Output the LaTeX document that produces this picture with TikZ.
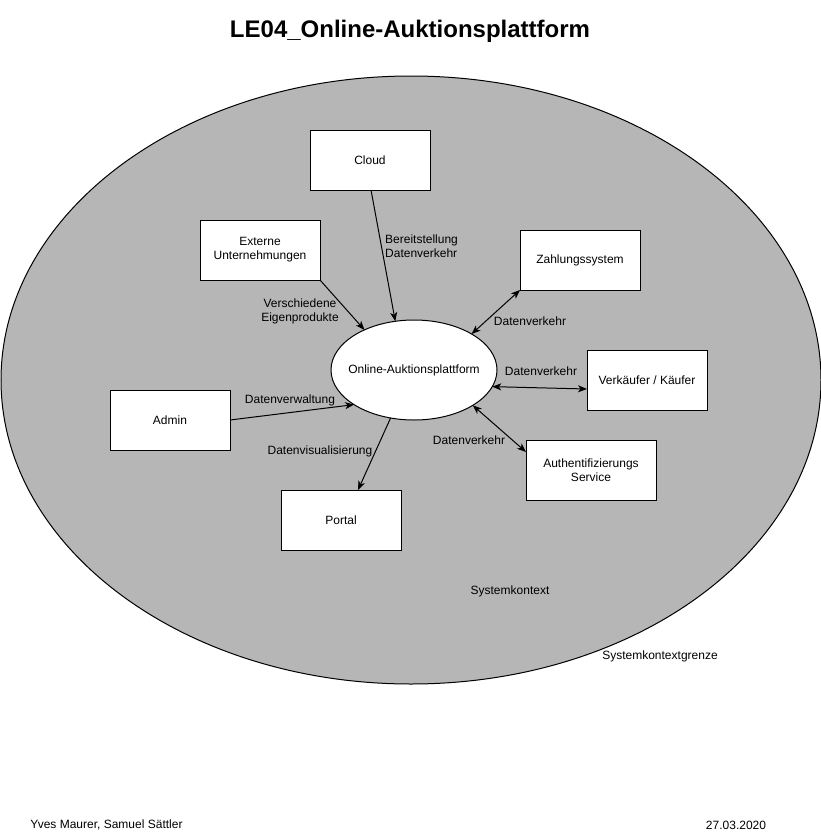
\documentclass[tikz,border=0pt]{standalone}
\usepackage{fontspec}
\setmainfont{Liberation Sans}
\usetikzlibrary{shapes.geometric,arrows.meta,calc}
\definecolor{ctxgray}{RGB}{182,182,182}
\definecolor{txtcol}{RGB}{0,0,0}
\begin{document}
\begin{tikzpicture}[x=1pt,y=-1pt,
  every node/.style={font=\fontsize{12}{14}\selectfont, text=txtcol},
  box/.style={draw, fill=white, line width=1pt, rectangle, minimum width=120pt, minimum height=60pt, inner sep=0pt, outer sep=0pt, align=center},
  lbl/.style={inner sep=0pt, align=center},
  arr/.style={line width=1pt, -{Stealth[length=9pt,width=7pt,inset=2.5pt]}},
  darr/.style={line width=1pt, {Stealth[length=9pt,width=7pt,inset=2.5pt]}-{Stealth[length=9pt,width=7pt,inset=2.5pt]}}
]
\useasboundingbox (0,0) rectangle (821,836);
% system context boundary
\node[draw, line width=1pt, fill=ctxgray, ellipse, minimum width=820pt, minimum height=608pt, inner sep=0pt, outer sep=0pt] (ctx) at (411,380) {};
% title
\node[inner sep=0pt, font=\fontsize{24}{28}\selectfont\bfseries] (title) at (410,31) {LE04\_Online-Auktionsplattform};
% central element
\node[draw, line width=1pt, fill=white, ellipse, minimum width=166pt, minimum height=100pt, inner sep=0pt, outer sep=0pt,
  label={[inner sep=0pt, font=\fontsize{12}{14}\selectfont]center:Online-Auktionsplattform}] (plat) at (414,370) {};
% boxes
\node[box] (cloud) at (370,160) {Cloud};
\node[box] (ext) at (260,250) {Externe\\Unternehmungen};
\node[box] (zahl) at (580,260) {Zahlungssystem};
\node[box] (verk) at (647,380) {Verkäufer / Käufer};
\node[box] (admin) at (170,420) {Admin};
\node[box, minimum width=130pt] (auth) at (591,470) {Authentifizierungs\\Service};
\node[box] (portal) at (341,520) {Portal};
% connectors
\draw[arr] ($(cloud.south)+(1,0)$) -- (plat.111);
\draw[arr] (ext.south east) -- (plat.141.7);
\draw[darr] (plat.32.8) -- (zahl.south west);
\draw[darr] (plat.-12.8) -- ($(verk.west)+(0,9)$);
\draw[darr] (plat.-31.2) -- ($(auth.north west)+(0,12)$);
\draw[arr] (admin.east) -- (plat.210.7);
\draw[arr] (plat.244.9) -- ($(portal.north)+(17,0)$);
% labels
\node[lbl, anchor=west, align=left] (l1) at (385,246) {Bereitstellung\\Datenverkehr};
\node[lbl] (l2) at (300,311) {Verschiedene\\Eigenprodukte};
\node[lbl] (l3) at (530,321) {Datenverkehr};
\node[lbl] (l4) at (541,371) {Datenverkehr};
\node[lbl] (l5) at (469,440) {Datenverkehr};
\node[lbl] (l6) at (290,400) {Datenverwaltung};
\node[lbl] (l7) at (320,451) {Datenvisualisierung};
\node[lbl] (l8) at (510,591) {Systemkontext};
\node[lbl] (l9) at (660,656) {Systemkontextgrenze};
% footer
\node[lbl] (f1) at (106.5,825) {Yves Maurer, Samuel Sättler};
\node[lbl] (f2) at (736,825) {27.03.2020};
\end{tikzpicture}
\end{document}
